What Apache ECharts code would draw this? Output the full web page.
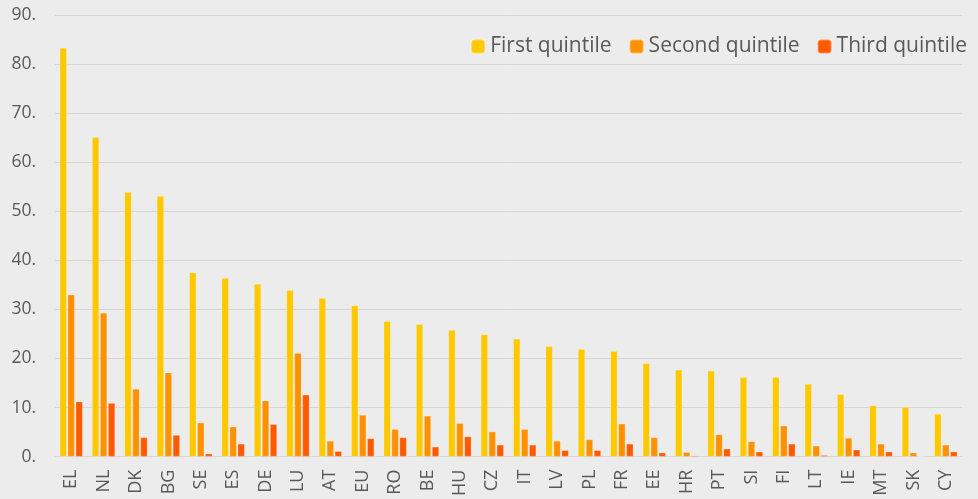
<!DOCTYPE html>
<html>
<head>
<meta charset="utf-8">
<script src="https://cdn.jsdelivr.net/npm/echarts@6/dist/echarts.min.js"></script>
<style>
  html, body { margin: 0; padding: 0; background: #ececec; }
  #chart { width: 978px; height: 499px; }
</style>
</head>
<body>
<div id="chart"></div>
<script>
  var countries = ["EL", "NL", "DK", "BG", "SE", "ES", "DE", "LU", "AT", "EU", "RO", "BE", "HU", "CZ",
    "IT", "LV", "PL", "FR", "EE", "HR", "PT", "SI", "FI", "LT", "IE", "MT", "SK", "CY"];
  var firstQuintile = [83.3, 65.1, 53.9, 53.1, 37.5, 36.4, 35.2, 33.9, 32.3, 30.8, 27.6, 27.0, 25.8, 24.9,
    24.0, 22.5, 21.9, 21.5, 19.0, 17.7, 17.5, 16.2, 16.2, 14.8, 12.7, 10.4, 10.1, 8.7];
  var secondQuintile = [33.0, 29.3, 13.8, 17.1, 6.9, 6.1, 11.4, 21.1, 3.2, 8.5, 5.6, 8.3, 6.8, 5.1,
    5.6, 3.2, 3.5, 6.7, 3.9, 0.9, 4.5, 3.1, 6.3, 2.2, 3.8, 2.6, 0.8, 2.4];
  var thirdQuintile = [11.2, 10.9, 3.9, 4.4, 0.6, 2.6, 6.6, 12.6, 1.1, 3.7, 3.9, 2.0, 4.1, 2.4,
    2.4, 1.3, 1.3, 2.6, 0.8, 0.2, 1.6, 1.0, 2.6, 0.3, 1.4, 1.0, 0.1, 1.0];
  var yTicks = [0, 10, 20, 30, 40, 50, 60, 70, 80, 90];

  var font = "'Open Sans', 'Noto Sans', sans-serif";
  var textColor = "#595959";

  function bar(name, data, color) {
    return {
      name: name,
      type: "bar",
      data: data,
      barWidth: 7,
      barGap: "14%",
      itemStyle: { color: color, borderColor: "rgba(255,255,255,0.35)", borderWidth: 0.6 }
    };
  }

  var chart = echarts.init(document.getElementById("chart"));
  chart.setOption({
    backgroundColor: "#ececec",
    animation: false,
    legend: {
      right: 6,
      top: 31,
      itemWidth: 14,
      itemHeight: 14,
      itemGap: 17,
      textStyle: { fontFamily: font, fontSize: 21, color: textColor },
      data: ["First quintile", "Second quintile", "Third quintile"]
    },
    grid: { left: 55, right: 16, top: 15, bottom: 41 },
    xAxis: {
      type: "category",
      data: countries,
      axisTick: { show: false },
      axisLine: { lineStyle: { color: "#d6d6d6", width: 1 } },
      axisLabel: {
        rotate: 90,
        interval: 0,
        margin: 13,
        fontFamily: font,
        fontSize: 18,
        color: textColor
      }
    },
    yAxis: {
      type: "value",
      min: yTicks[0],
      max: yTicks[yTicks.length - 1],
      interval: 10,
      axisLine: { show: false },
      axisTick: { show: false },
      splitLine: { lineStyle: { color: "#d6d6d6", width: 1 } },
      axisLabel: {
        margin: 19,
        fontFamily: font,
        fontSize: 17.5,
        color: textColor,
        formatter: function (v) { return v + "."; }
      }
    },
    series: [
      bar("First quintile", firstQuintile, "#ffc800"),
      bar("Second quintile", secondQuintile, "#ff9100"),
      bar("Third quintile", thirdQuintile, "#ff5a00")
    ]
  });
</script>
</body>
</html>
